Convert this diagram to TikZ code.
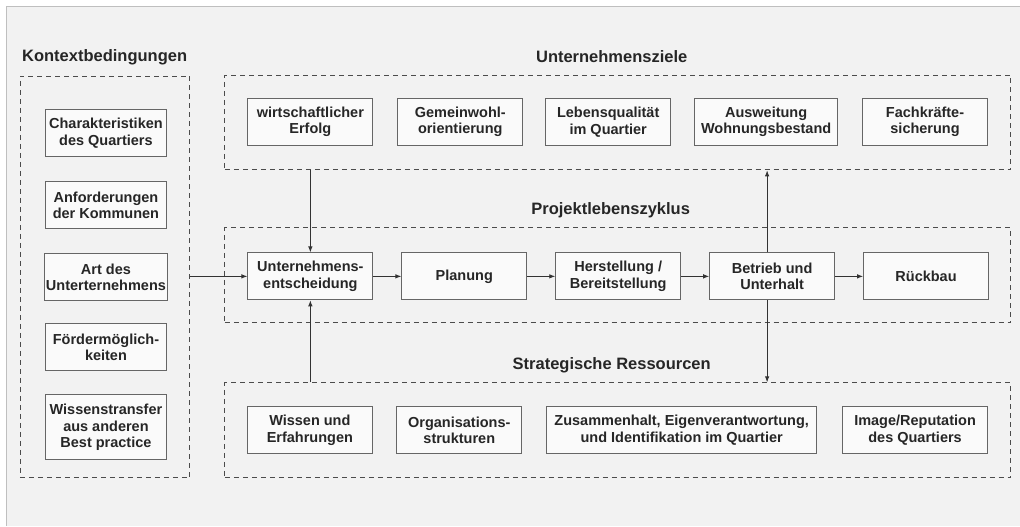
\documentclass[tikz,border=0pt]{standalone}
\usepackage{fontspec}
\setmainfont{Liberation Sans}
\usetikzlibrary{arrows.meta}

\begin{document}
\begin{tikzpicture}[
        x=1pt, y=-1pt,
        node distance=154pt,
        kasten/.style={rectangle, draw=black!60, fill=black!2, text=black!85, align=center, minimum width=125pt, minimum height=47pt, inner sep=2pt, font=\fontsize{14.5}{16.7}\selectfont\bfseries, line width=0.9pt},
        gruppe/.style={rectangle, draw=black!70, dash pattern=on 5pt off 4pt, minimum width=786pt, minimum height=95pt, line width=0.9pt},
        titel/.style={inner sep=0pt, font=\fontsize{16.5}{19}\selectfont\bfseries, text=black!85},
        pfeil/.style={-{Latex[length=6pt, width=4.5pt]}, black!80, line width=0.9pt}
    ]
        % Hintergrund
        \fill[black!5] (7,7) rectangle (1020,526);
        \draw[black!25, line width=1pt] (7,526) -- (7,7) -- (1020,7);
        \useasboundingbox (0,0) rectangle (1020,526);

        % Gruppen
        \node[gruppe, minimum width=170pt, minimum height=402pt] (kontext) at (105,277) {};
        \node[gruppe] (ziele) at (618,122.5) {};
        \node[gruppe] (zyklus) at (618,275.5) {};
        \node[gruppe] (ressourcen) at (618,430.5) {};

        % Titel
        \node[titel, anchor=west] (t-kontext) at (22,57) {Kontextbedingungen};
        \node[titel] (t-ziele) at (612,57) {Unternehmensziele};
        \node[titel] (t-zyklus) at (611,210) {Projektlebenszyklus};
        \node[titel] (t-ressourcen) at (612,365) {Strategische Ressourcen};

        % Kontextbedingungen
        \node[kasten, minimum width=122pt] (charakter) at (106,133.5) {Charakteristiken\\des Quartiers};
        \node[kasten, minimum width=122pt] (anforderung) at (106,205.5) {Anforderungen\\der Kommunen};
        \node[kasten, minimum width=122pt] (art) at (106,277.5) {Art des\\Unterternehmens};
        \node[kasten, minimum width=122pt] (foerder) at (106,347.5) {Fördermöglich-\\keiten};
        \node[kasten, minimum width=122pt, minimum height=65pt] (transfer) at (106,427.5) {Wissenstransfer\\aus anderen\\Best practice};

        % Unternehmensziele
        \node[kasten] (erfolg) at (310.5,122) {wirtschaftlicher\\Erfolg};
        \node[kasten] (gemeinwohl) at (460.5,122) {Gemeinwohl-\\orientierung};
        \node[kasten] (lebensqualitaet) at (608.5,122) {Lebensqualität\\im Quartier};
        \node[kasten, minimum width=143pt] (ausweitung) at (766.5,122) {Ausweitung\\Wohnungsbestand};
        \node[kasten] (fachkraefte) at (925.5,122) {Fachkräfte-\\sicherung};

        % Projektlebenszyklus
        \node[kasten] (entscheidung) at (310.5,276.5) {Unternehmens-\\entscheidung};
        \node[kasten, right of=entscheidung] (planung) {Planung};
        \node[kasten, right of=planung] (herstellung) {Herstellung /\\Bereitstellung};
        \node[kasten, right of=herstellung] (betrieb) {Betrieb und\\Unterhalt};
        \node[kasten, right of=betrieb] (rueckbau) {Rückbau};

        % Strategische Ressourcen
        \node[kasten] (wissen) at (310,430.5) {Wissen und\\Erfahrungen};
        \node[kasten] (organisation) at (459.5,430.5) {Organisations-\\strukturen};
        \node[kasten, minimum width=270pt] (zusammenhalt) at (682,430.5) {Zusammenhalt, Eigenverantwortung,\\und Identifikation im Quartier};
        \node[kasten, minimum width=145pt] (image) at (915.5,430.5) {Image/Reputation\\des Quartiers};

        % Pfeile
        \draw[pfeil] (kontext.east |- entscheidung) -- (entscheidung);
        \draw[pfeil] (ziele.south -| entscheidung) -- (entscheidung);
        \draw[pfeil] (ressourcen.north -| entscheidung) -- (entscheidung);
        \draw[pfeil] (entscheidung) -- (planung);
        \draw[pfeil] (planung) -- (herstellung);
        \draw[pfeil] (herstellung) -- (betrieb);
        \draw[pfeil] (betrieb) -- (rueckbau);
        \draw[pfeil] ([xshift=-5pt]betrieb.north) -- ([xshift=-5pt]ziele.south -| betrieb);
        \draw[pfeil] ([xshift=-5pt]betrieb.south) -- ([xshift=-5pt]ressourcen.north -| betrieb);
\end{tikzpicture}
\end{document}
